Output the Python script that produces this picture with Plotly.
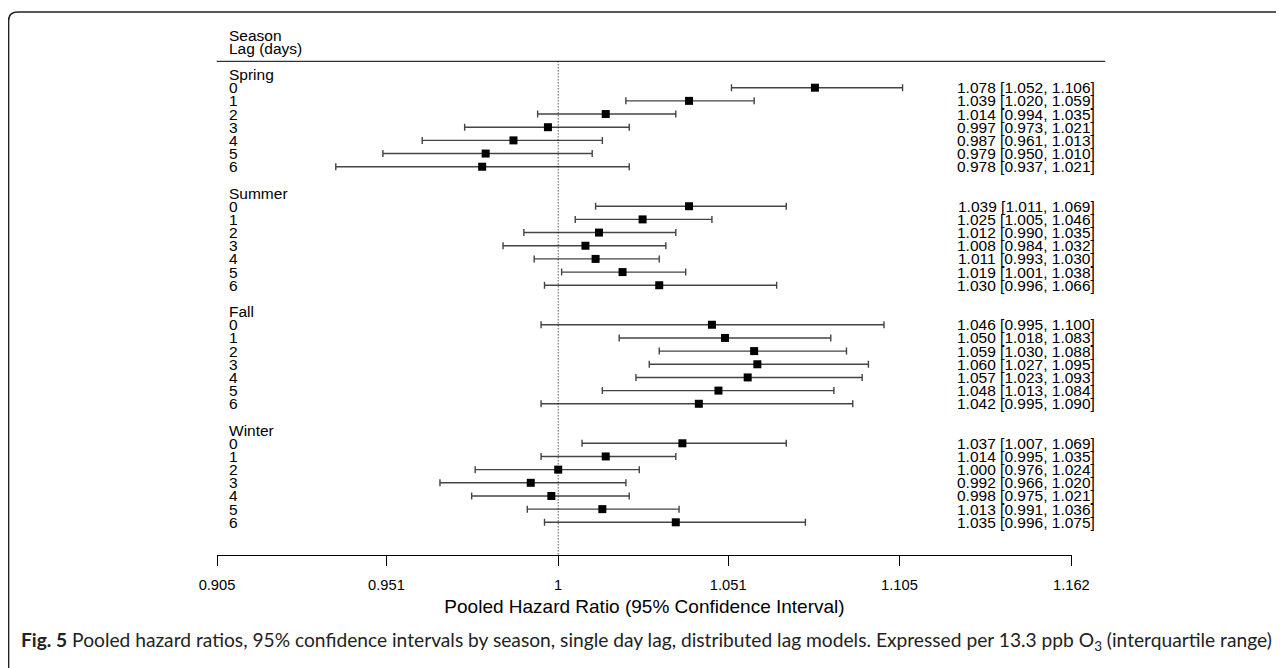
import math
import plotly.graph_objects as go

# ---------------- data ----------------
seasons = ["Spring", "Summer", "Fall", "Winter"]
lags = ["0", "1", "2", "3", "4", "5", "6"]
spring_hr = [1.078, 1.039, 1.014, 0.997, 0.987, 0.979, 0.978]
spring_lo = [1.052, 1.020, 0.994, 0.973, 0.961, 0.950, 0.937]
spring_hi = [1.106, 1.059, 1.035, 1.021, 1.013, 1.010, 1.021]
summer_hr = [1.039, 1.025, 1.012, 1.008, 1.011, 1.019, 1.030]
summer_lo = [1.011, 1.005, 0.990, 0.984, 0.993, 1.001, 0.996]
summer_hi = [1.069, 1.046, 1.035, 1.032, 1.030, 1.038, 1.066]
fall_hr = [1.046, 1.050, 1.059, 1.060, 1.057, 1.048, 1.042]
fall_lo = [0.995, 1.018, 1.030, 1.027, 1.023, 1.013, 0.995]
fall_hi = [1.100, 1.083, 1.088, 1.095, 1.093, 1.084, 1.090]
winter_hr = [1.037, 1.014, 1.000, 0.992, 0.998, 1.013, 1.035]
winter_lo = [1.007, 0.995, 0.976, 0.966, 0.975, 0.991, 0.996]
winter_hi = [1.069, 1.035, 1.024, 1.020, 1.021, 1.036, 1.075]
tick_labels = ["0.905", "0.951", "1", "1.051", "1.105", "1.162"]

groups = [
    (spring_hr, spring_lo, spring_hi),
    (summer_hr, summer_lo, summer_hi),
    (fall_hr, fall_lo, fall_hi),
    (winter_hr, winter_lo, winter_hi),
]

# ---------------- layout geometry (page pixels; page has 8px body margin) ----------------
OFF = 8
FW, FH = 1284 - OFF, 668 - OFF
X_LO, X_HI = 0.905, 1.1622   # axis limits (data units)
PX_PER_LN = 170.8 / 0.05     # pixels per natural-log unit
PL = 558.3 + math.log(X_LO) * PX_PER_LN   # plot area left (page px)
PR = 558.3 + math.log(X_HI) * PX_PER_LN   # plot area right (page px)
PT, PB = 20.0, 555.0        # plot area top/bottom (page px)
ROW0, ROWH = 87.7, 13.17    # page y of first row and row spacing


def row_of(py):
    return (py - ROW0) / ROWH


def px2paper_x(px):
    return (px - PL) / (PR - PL)


def px2paper_y(py):
    return (PB - py) / (PB - PT)


FONT = "Liberation Sans, Arial, sans-serif"
FS = 15.5
TXT = dict(family=FONT, size=FS, color="black")

xs, ys, ep, em = [], [], [], []
annotations = []
for g, (hr, lo, hi) in enumerate(groups):
    base = g * 9
    annotations.append(dict(x=px2paper_x(227), xref="paper", y=base - 1, yref="y",
                            text=seasons[g], showarrow=False, xanchor="left",
                            yanchor="middle", font=TXT))
    for i in range(len(hr)):
        r = base + i
        xs.append(hr[i]); ys.append(r)
        ep.append(hi[i] - hr[i]); em.append(hr[i] - lo[i])
        annotations.append(dict(x=px2paper_x(227), xref="paper", y=r, yref="y",
                                text=lags[i], showarrow=False, xanchor="left",
                                yanchor="middle", font=TXT))
        annotations.append(dict(x=px2paper_x(1097), xref="paper", y=r, yref="y",
                                text=f"{hr[i]:.3f} [{lo[i]:.3f}, {hi[i]:.3f}]",
                                showarrow=False, xanchor="right", yanchor="middle",
                                font=TXT))

for txt, r in [("Season", -4), ("Lag (days)", -3)]:
    annotations.append(dict(x=px2paper_x(227), xref="paper", y=r, yref="y", text=txt,
                            showarrow=False, xanchor="left", yanchor="middle", font=TXT))

# caption
annotations.append(dict(
    x=px2paper_x(19), xref="paper", y=px2paper_y(641), yref="paper",
    text="<b>Fig. 5</b> Pooled hazard ratios, 95% confidence intervals by season, single day lag, "
         "distributed lag models. Expressed per 13.3 ppb O<sub>3</sub> (interquartile range)",
    showarrow=False, xanchor="left", yanchor="middle",
    font=dict(family="Lato, 'Open Sans', sans-serif", size=19.2, color="#222")))

fig = go.Figure()
fig.add_trace(go.Scatter(
    x=xs, y=ys, mode="markers",
    marker=dict(symbol="square", size=8, color="black"),
    error_x=dict(type="data", symmetric=False, array=ep, arrayminus=em,
                 color="#444", thickness=1.4, width=3.5),
    cliponaxis=False, showlegend=False, hoverinfo="x+y"))

shapes = []
# header separator
shapes.append(dict(type="line", xref="paper", yref="y", x0=px2paper_x(217), x1=px2paper_x(1105),
                   y0=-2, y1=-2, line=dict(color="#333", width=1.4)))
# reference dotted line at 1
shapes.append(dict(type="line", xref="x", yref="y", x0=1, x1=1, y0=-2, y1=row_of(PB),
                   line=dict(color="black", width=1, dash="1px,2px")))


# rounded frame
def P(px, py):
    return f"{px2paper_x(px):.5f},{px2paper_y(py):.5f}"


path = f"M {P(9, 700)} L {P(9, 21)} Q {P(9, 12)} {P(18, 12)} L {P(1310, 12)}"
shapes.append(dict(type="path", xref="paper", yref="paper", path=path,
                   line=dict(color="#222", width=1.6)))

fig.update_layout(
    width=FW, height=FH,
    margin=dict(l=PL - OFF, r=(FW + OFF) - PR, t=PT - OFF, b=(FH + OFF) - PB, pad=0),
    paper_bgcolor="white", plot_bgcolor="white",
    showlegend=False,
    annotations=annotations, shapes=shapes,
    xaxis=dict(type="log", range=[math.log10(X_LO), math.log10(X_HI)],
               tickvals=[float(t) for t in tick_labels], ticktext=tick_labels,
               showgrid=False, zeroline=False, showline=True, linecolor="black", linewidth=1,
               ticks="outside", ticklen=10, tickwidth=1, tickcolor="black",
               ticklabelstandoff=6,
               tickfont=dict(family=FONT, size=14.7, color="black"),
               title=dict(text="Pooled Hazard Ratio (95% Confidence Interval)",
                          font=dict(family=FONT, size=19, color="black"), standoff=8),
               fixedrange=True),
    yaxis=dict(range=[row_of(PB), row_of(PT)], showgrid=False, zeroline=False,
               showline=False, showticklabels=False, ticks="", fixedrange=True),
)

fig.write_html("out.html")
